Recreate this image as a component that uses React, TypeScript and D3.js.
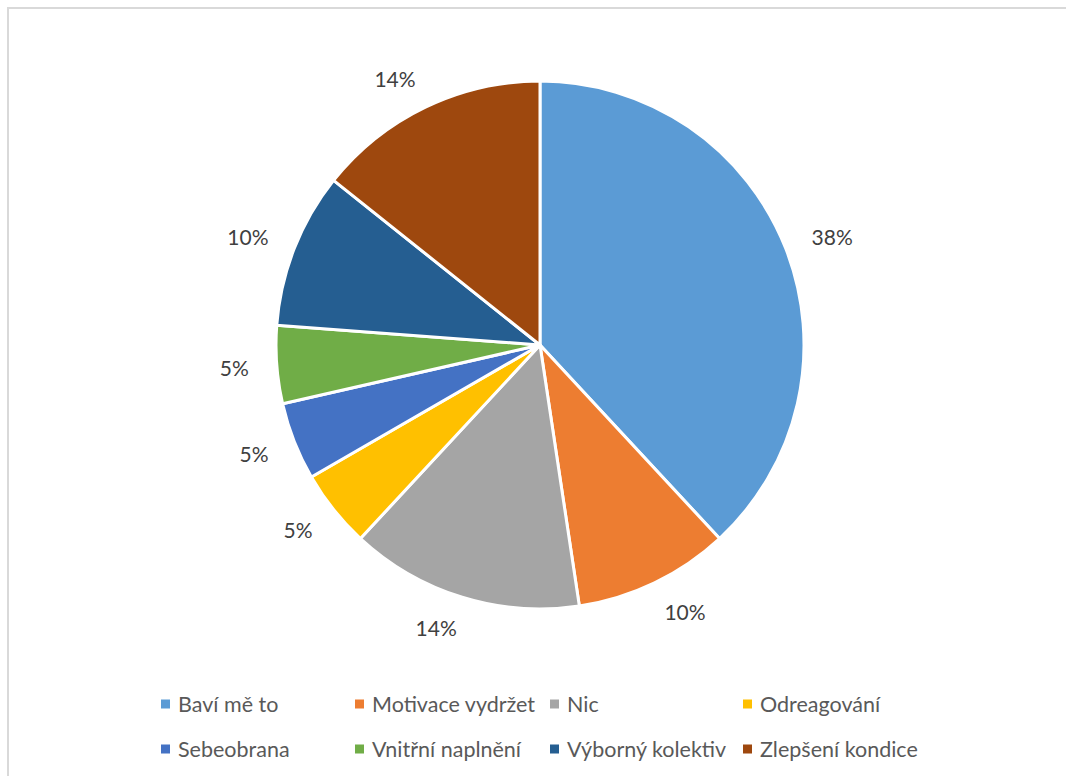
import React, { useEffect, useRef } from "react";
import * as d3 from "d3";

const categories = [
  "Baví mě to",
  "Motivace vydržet",
  "Nic",
  "Odreagování",
  "Sebeobrana",
  "Vnitřní naplnění",
  "Výborný kolektiv",
  "Zlepšení kondice",
];
const counts = [8, 2, 3, 1, 1, 1, 2, 3];
const colors = ["#5B9BD5", "#ED7D31", "#A5A5A5", "#FFC000", "#4472C4", "#70AD47", "#255E91", "#9E480E"];

const W = 1066;
const H = 776;
const FONT = "Lato, 'Open Sans', sans-serif";

export default function App() {
  const ref = useRef<SVGSVGElement>(null);

  useEffect(() => {
    const svg = d3.select(ref.current);
    svg.selectAll("*").remove();

    svg.append("rect").attr("x", 0).attr("y", 0).attr("width", W).attr("height", H).attr("fill", "#ffffff");
    svg
      .append("path")
      .attr("d", `M8,${H} L8,8 L${W},8`)
      .attr("fill", "none")
      .attr("stroke", "#d9d9d9")
      .attr("stroke-width", 2);

    const cx = 540;
    const cy = 345;
    const r = 264;
    const total = d3.sum(counts);

    const pie = d3.pie<number>().sort(null).value((d) => d);
    const arcs = pie(counts);
    const arc = d3.arc<d3.PieArcDatum<number>>().innerRadius(0).outerRadius(r);
    const labelR = 296;

    const g = svg.append("g").attr("transform", `translate(${cx},${cy})`);
    g.selectAll("path.slice")
      .data(arcs)
      .enter()
      .append("path")
      .attr("class", "slice")
      .attr("d", arc)
      .attr("fill", (_, i) => colors[i])
      .attr("stroke", "#ffffff")
      .attr("stroke-width", 3)
      .attr("stroke-linejoin", "round");

    const fmt = d3.format(".0%");
    const labels = g
      .selectAll("text.lbl")
      .data(arcs)
      .enter()
      .append("text")
      .attr("class", "lbl")
      .attr("text-anchor", "middle")
      .attr("dominant-baseline", "central")
      .attr("font-family", FONT)
      .attr("font-size", 21)
      .attr("fill", "#404040")
      .text((d) => fmt(d.data / total));

    labels.each(function (d) {
      const el = this as SVGTextElement;
      const w = el.getComputedTextLength();
      const a = (d.startAngle + d.endAngle) / 2;
      const ux = Math.sin(a);
      const uy = -Math.cos(a);
      const x = labelR * ux + Math.sign(ux) * (w / 2 - 4);
      const y = labelR * uy;
      d3.select(el).attr("transform", `translate(${x},${y})`);
    });

    const colX = d3.scaleOrdinal<number, number>().domain([0, 1, 2, 3]).range([161, 355, 550, 743]);
    const rowY = d3.scaleOrdinal<number, number>().domain([0, 1]).range([704, 749]);

    const leg = svg
      .selectAll("g.leg")
      .data(categories)
      .enter()
      .append("g")
      .attr("class", "leg")
      .attr("transform", (_, i) => `translate(${colX(i % 4)},${rowY(Math.floor(i / 4))})`);
    leg
      .append("rect")
      .attr("x", 0)
      .attr("y", -4.5)
      .attr("width", 9)
      .attr("height", 9)
      .attr("fill", (_, i) => colors[i]);
    leg
      .append("text")
      .attr("x", 17)
      .attr("y", 0)
      .attr("dominant-baseline", "central")
      .attr("font-family", FONT)
      .attr("font-size", 21.5)
      .attr("fill", "#595959")
      .text((d) => d);
  }, []);

  return (
    <svg
      ref={ref}
      width={W}
      height={H}
      style={{ position: "absolute", left: 0, top: 0, display: "block", overflow: "hidden" }}
    />
  );
}
